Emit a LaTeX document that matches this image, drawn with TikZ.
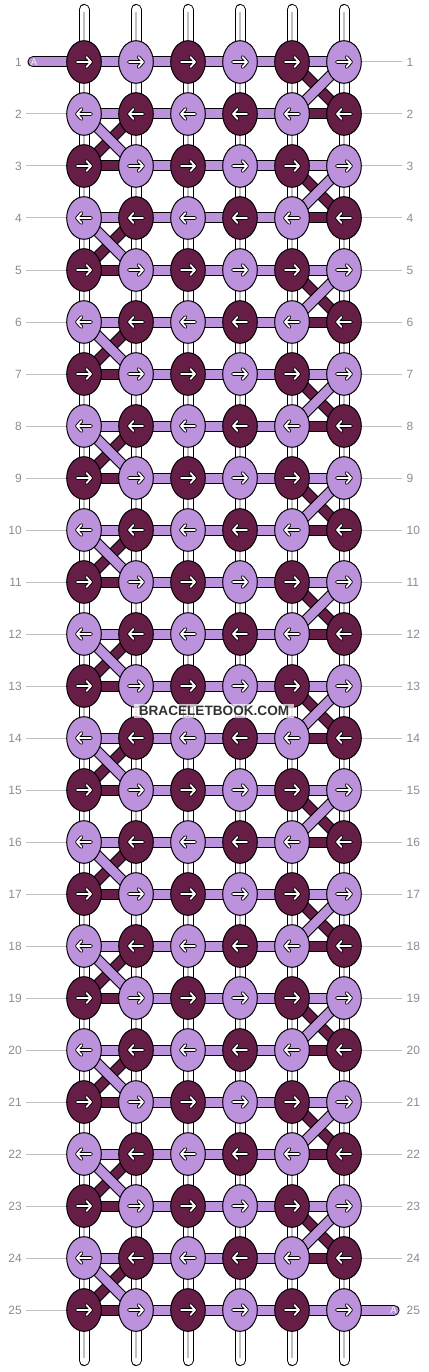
\documentclass[tikz,border=0pt]{standalone}
\usepackage{fontspec}
\setmainfont{Liberation Sans}
\usetikzlibrary{shapes.geometric}
\definecolor{darkc}{RGB}{103,30,70}
\definecolor{lightc}{RGB}{187,146,219}
\definecolor{labc}{RGB}{140,140,140}
\definecolor{rulec}{RGB}{192,192,192}
\definecolor{wmc}{RGB}{50,50,50}
\pgfdeclarelayer{strands}
\pgfdeclarelayer{bars}
\pgfsetlayers{strands,bars,main}
\tikzset{
  knot/.style={ellipse, draw=black, line width=1pt, minimum width=34.6pt, minimum height=42.6pt, inner sep=0pt},
  barb/.style={draw=black, line width=1pt, double=#1, double distance=9pt},
  strandb/.style={draw=black, line width=1pt, double=white, double distance=9pt, line cap=round},
  strandmid/.style={draw=rulec, line width=1.6pt},
  arrout/.style={draw=black, line width=3.6pt, line cap=round, line join=round},
  arrin/.style={draw=white, line width=1.8pt, line cap=round, line join=round},
  lab/.style={text=labc, font=\fontsize{12}{12}\selectfont, inner sep=0pt},
  rowrule/.style={draw=rulec, line width=1pt},
  alab/.style={text=white!92!lightc, font=\fontsize{9.5}{9.5}\selectfont, inner sep=0pt},
}
\begin{document}
\begin{tikzpicture}[x=1pt,y=-1pt]
\useasboundingbox (0,0) rectangle (428,1372);
% knots
\foreach \r in {1,...,25}{
  \foreach \c in {1,...,6}{
    \pgfmathtruncatemacro\pty{mod(\r+\c,2)}
    \ifnum\pty=0 \def\kc{darkc}\else\def\kc{lightc}\fi
    \ifodd\r\relax \def\dir{1}\else\def\dir{-1}\fi
    \node[knot, fill=\kc] (k-\r-\c) at ({32+52*\c},{62+52*(\r-1)}) {};
    \begin{scope}[shift={(k-\r-\c.center)}, xscale=\dir]
      \draw[arrout] (-7,0) -- (7,0) (2.5,-5) -- (7,0) -- (2.5,5);
      \draw[arrin] (-7,0) -- (7,0) (2.5,-5) -- (7,0) -- (2.5,5);
    \end{scope}
  }
}
% vertical strands
\begin{pgfonlayer}{strands}
\foreach \c in {1,...,6}{
  \coordinate (st-\c) at ({32+52*\c},9.5);
  \coordinate (sb-\c) at ({32+52*\c},1360.5);
  \draw[strandb] (st-\c) -- (sb-\c);
  \draw[strandmid] ([yshift=-3pt]st-\c) -- ([yshift=3pt]sb-\c);
}
\end{pgfonlayer}
% bars
\begin{pgfonlayer}{bars}
\foreach \r in {1,...,25}{
  \foreach \c [evaluate=\c as \n using int(\c+1)] in {1,...,5}{
    \ifodd\r\relax
      \ifnum\c=1 \ifnum\r=1 \def\bc{lightc}\else\def\bc{darkc}\fi\else\def\bc{lightc}\fi
    \else
      \ifnum\c=5 \def\bc{darkc}\else\def\bc{lightc}\fi
    \fi
    \draw[barb=\bc] (k-\r-\c.center) -- (k-\r-\n.center);
  }
}
% row rules
\foreach \r in {2,...,25}{
  \coordinate (ls-\r) at (26,{62+52*(\r-1)});
  \draw[rowrule] (ls-\r) -- (k-\r-1.center);
}
\foreach \r in {1,...,24}{
  \coordinate (re-\r) at (401.5,{62+52*(\r-1)});
  \draw[rowrule] (k-\r-6.center) -- (re-\r);
}
% A strand ends
\coordinate (aL) at (33,62);
\coordinate (aR) at (394,1310);
\draw[barb=lightc, line cap=round] (aL) -- (k-1-1.center);
\draw[barb=lightc, line cap=round] (k-25-6.center) -- (aR);
% diagonals
\foreach \r [evaluate=\r as \s using int(\r+1)] in {2,4,...,24}{
  \draw[barb=darkc] (k-\r-2.center) -- (k-\s-1.center);
  \draw[barb=lightc] (k-\r-1.center) -- (k-\s-2.center);
}
\foreach \r [evaluate=\r as \s using int(\r+1)] in {1,3,...,23}{
  \draw[barb=darkc] (k-\r-5.center) -- (k-\s-6.center);
  \draw[barb=lightc] (k-\r-6.center) -- (k-\s-5.center);
}
\end{pgfonlayer}
% A labels
\node[alab] (aLt) at (34,62) {A};
\node[alab] (aRt) at (393.5,1310) {A};
% row labels
\foreach \r in {1,...,25}{
  \node[lab, anchor=east] (ll-\r) at (22,{62+52*(\r-1)}) {\r};
  \node[lab, anchor=west] (rl-\r) at (406.5,{62+52*(\r-1)}) {\r};
}
% watermark
\node[fill=white, fill opacity=0.7, text opacity=1, text=wmc, inner xsep=5pt, inner ysep=2.5pt,
      font=\bfseries\fontsize{13.6}{13.6}\selectfont] (wm) at (214,711) {BRACELETBOOK.COM};
\end{tikzpicture}
\end{document}
